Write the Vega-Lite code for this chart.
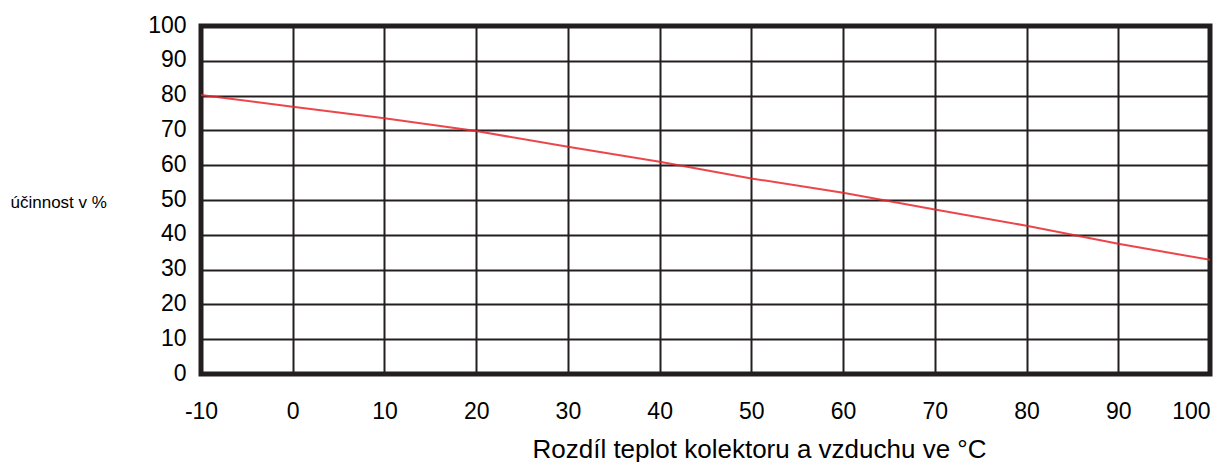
{
  "$schema": "https://vega.github.io/schema/vega-lite/v6.json",
  "width": 1009,
  "height": 348,
  "autosize": {"type": "none"},
  "padding": {"left": 201, "top": 26, "right": 15, "bottom": 88},
  "background": "white",
  "config": {
    "view": {"stroke": "#231f20", "strokeWidth": 5},
    "font": "Liberation Sans"
  },
  "data": {
    "values": [
      {"t": -10, "eff": 80.2},
      {"t": 0, "eff": 76.8},
      {"t": 10, "eff": 73.5},
      {"t": 20, "eff": 69.8},
      {"t": 30, "eff": 65.3},
      {"t": 40, "eff": 61.0},
      {"t": 50, "eff": 56.2},
      {"t": 60, "eff": 52.1},
      {"t": 70, "eff": 47.3},
      {"t": 80, "eff": 42.6},
      {"t": 90, "eff": 37.4},
      {"t": 100, "eff": 32.8}
    ]
  },
  "mark": {"type": "line", "color": "#e8262b", "strokeWidth": 2, "opacity": 0.85, "clip": true},
  "encoding": {
    "x": {
      "field": "t",
      "type": "quantitative",
      "scale": {"domain": [-10, 100], "nice": false, "zero": false},
      "axis": {
        "values": [-10, 0, 10, 20, 30, 40, 50, 60, 70, 80, 90, 100],
        "labelExpr": "replace(datum.label, '\u2212', '-')",
        "title": "Rozdíl teplot kolektoru a vzduchu ve °C",
        "titleFont": "Liberation Sans",
        "titleFontSize": 26,
        "titleFontWeight": "normal",
        "titleColor": "#000000",
        "titleAlign": "center",
        "titleBaseline": "alphabetic",
        "titleX": 558,
        "titleY": 83,
        "labelFont": "Liberation Sans",
        "labelFontSize": 23,
        "labelColor": "#000000",
        "labelPadding": 26,
        "labelFlush": false,
        "labelAlign": {"condition": {"test": "datum.value == 100", "value": "right"}, "value": "center"},
        "domain": false,
        "ticks": false,
        "grid": true,
        "gridColor": "#231f20",
        "gridWidth": 2,
        "gridOpacity": 1
      }
    },
    "y": {
      "field": "eff",
      "type": "quantitative",
      "scale": {"domain": [0, 100], "nice": false},
      "axis": {
        "values": [0, 10, 20, 30, 40, 50, 60, 70, 80, 90, 100],
        "title": "účinnost v %",
        "titleAngle": 0,
        "titleAlign": "left",
        "titleBaseline": "alphabetic",
        "titleX": -191,
        "titleY": 181,
        "titleFont": "Liberation Sans",
        "titleFontSize": 17,
        "titleFontWeight": "normal",
        "titleColor": "#000000",
        "labelFont": "Liberation Sans",
        "labelFontSize": 23,
        "labelColor": "#000000",
        "labelPadding": 15,
        "labelOffset": -1,
        "labelFlush": false,
        "domain": false,
        "ticks": false,
        "grid": true,
        "gridColor": "#231f20",
        "gridWidth": 2,
        "gridOpacity": 1
      }
    }
  }
}
